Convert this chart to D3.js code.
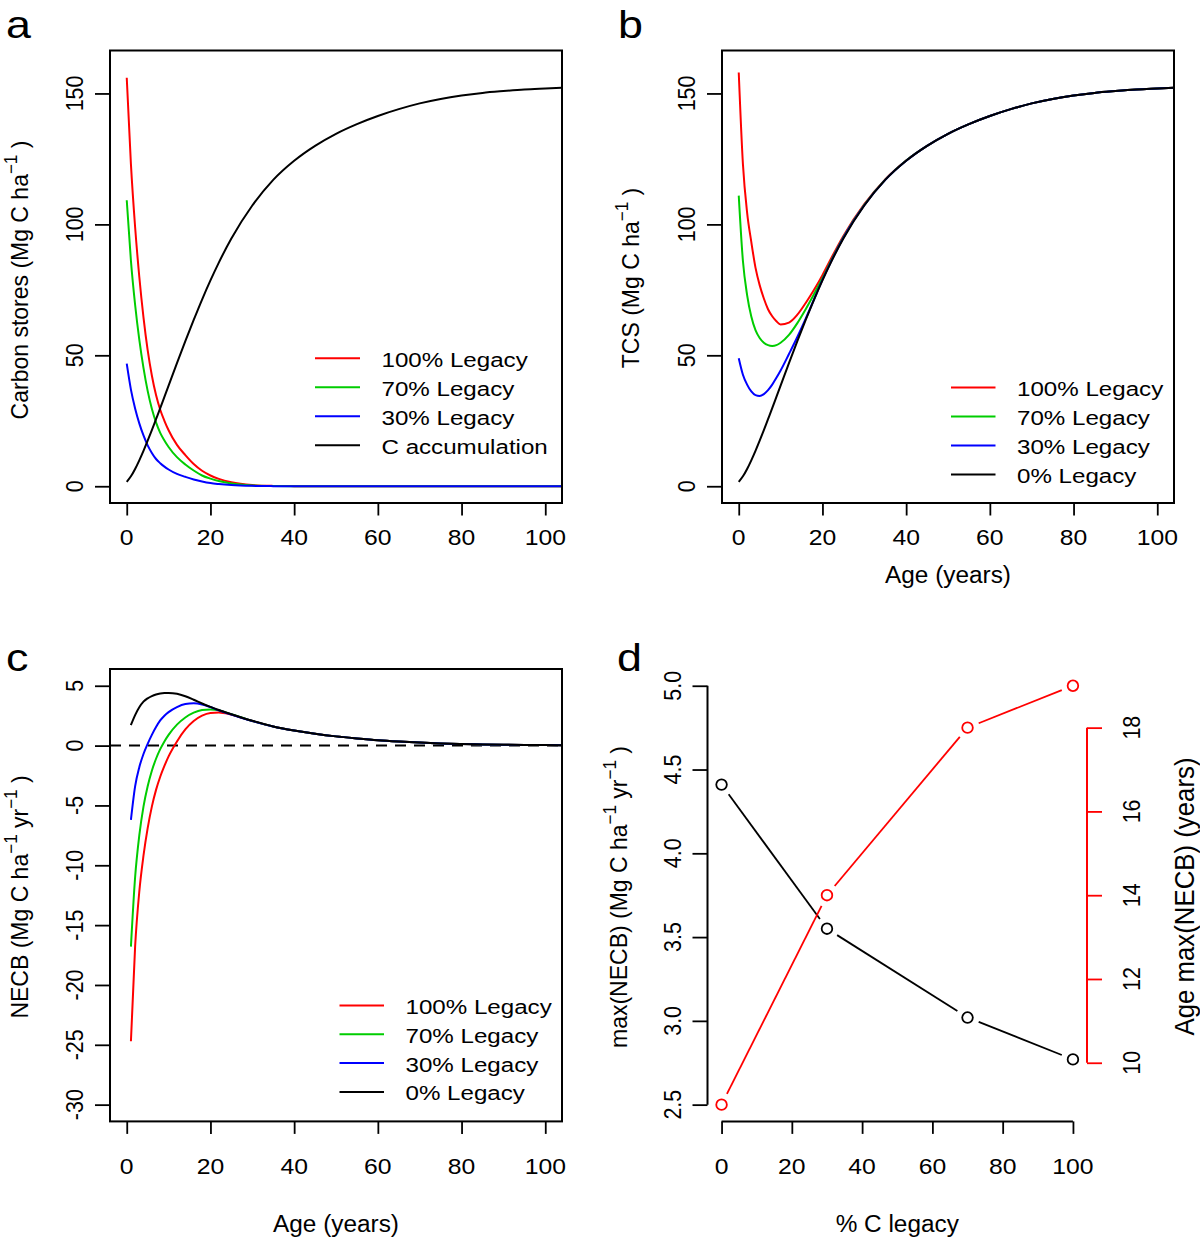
<!DOCTYPE html>
<html><head><meta charset="utf-8">
<script src="https://cdn.jsdelivr.net/npm/d3@7"></script>
<style>
body{margin:0;background:#fff}
svg{display:block}
text{font-family:"Liberation Sans",Arial,Helvetica,sans-serif;fill:#000}
</style>
</head><body>
<svg id="chart" width="1200" height="1238"></svg>
<script>
// ---------------- DATA ----------------
const ages = [0,1,2,3,4,5,6,7,8,9,10,12,14,16,18,20,22,25,30,35,40,45,50,55,60,65,70,75,80,85,90,95,100,104];
// panel a : carbon stores (Mg C / ha)
const accumulation = [1.7,3.8,6.6,9.9,13.5,17.4,21.4,25.6,29.8,34.1,38.4,47.0,55.4,63.5,71.3,78.6,85.4,94.6,107.2,117.0,124.3,130.0,134.6,138.3,141.4,144.0,146.2,147.9,149.2,150.2,150.9,151.5,151.9,152.2];
const legacy100 = [156,123,99,80,64.5,52,42.3,34.8,29.2,25.0,21.4,15.8,11.9,8.5,5.9,4.1,2.8,1.5,0.45,0.13,0.04,0.01,0,0,0,0,0,0,0,0,0,0,0,0];
const legacy70  = [109.2,86.1,69.3,56,45.2,36.4,29.6,24.4,20.4,17.5,15.0,11.1,8.3,6.0,4.1,2.9,2.0,1.05,0.32,0.09,0.03,0.01,0,0,0,0,0,0,0,0,0,0,0,0];
const legacy30  = [46.8,36.9,29.7,24,19.4,15.6,12.7,10.4,8.8,7.5,6.4,4.7,3.6,2.6,1.8,1.2,0.84,0.45,0.14,0.04,0.01,0,0,0,0,0,0,0,0,0,0,0,0,0];
// panel b : total carbon stores TCS (Mg C / ha)
const tcs100 = [158,123,104.5,93.3,83.5,76.8,71.7,67.6,64.9,63.0,61.8,62.5,65.5,70,75,80.6,86.8,95.6,107.7,117.2,124.4,130.0,134.6,138.3,141.4,144.0,146.2,147.9,149.2,150.2,150.9,151.5,151.9,152.2];
const tcs70  = [111,86,73,64.8,59.6,56.6,54.8,53.9,53.6,53.9,54.8,57.8,62.3,67.6,73.4,79.4,85.9,95.1,107.5,117.1,124.4,130.0,134.6,138.3,141.4,144.0,146.2,147.9,149.2,150.2,150.9,151.5,151.9,152.2];
const tcs30  = [48.9,42.6,38.8,36.2,34.8,34.5,35.2,36.7,38.8,41.4,44.2,50.5,57,64,71.4,78.8,85.6,94.9,107.3,117.0,124.3,130.0,134.6,138.3,141.4,144.0,146.2,147.9,149.2,150.2,150.9,151.5,151.9,152.2];
const tcs0   = [1.7,3.8,6.6,9.9,13.5,17.4,21.4,25.6,29.8,34.1,38.4,47.0,55.4,63.5,71.3,78.6,85.4,94.6,107.2,117.0,124.3,130.0,134.6,138.3,141.4,144.0,146.2,147.9,149.2,150.2,150.9,151.5,151.9,152.2];
// panel c : NECB (Mg C / ha / yr)
const agesNECB = [1,2,3,4,5,6,7,8,9,10,12,14,16,18,20,22,25,30,35,40,45,50,55,60,65,70,75,80,85,90,95,100,104];
const necb100 = [-24.7,-16.8,-12.2,-9.2,-6.9,-5.1,-3.7,-2.6,-1.7,-0.9,0.35,1.35,2.05,2.5,2.72,2.76,2.58,2.06,1.6,1.26,0.99,0.77,0.6,0.45,0.34,0.25,0.18,0.13,0.1,0.07,0.05,0.04,0.03];
const necb70  = [-16.8,-11.0,-7.5,-5.1,-3.4,-2.1,-1.1,-0.3,0.35,0.9,1.75,2.35,2.75,2.97,3.02,2.95,2.62,2.06,1.6,1.26,0.99,0.77,0.6,0.45,0.34,0.25,0.18,0.13,0.1,0.07,0.05,0.04,0.03];
const necb30  = [-6.2,-3.4,-1.8,-0.7,0.15,0.9,1.55,2.1,2.5,2.8,3.22,3.47,3.53,3.44,3.22,2.95,2.6,2.06,1.6,1.26,0.99,0.77,0.6,0.45,0.34,0.25,0.18,0.13,0.1,0.07,0.05,0.04,0.03];
const necb0   = [1.72,2.55,3.2,3.67,3.95,4.14,4.27,4.35,4.39,4.4,4.33,4.12,3.83,3.52,3.23,2.97,2.62,2.07,1.6,1.26,0.99,0.77,0.6,0.45,0.34,0.25,0.18,0.13,0.1,0.07,0.05,0.04,0.03];
// panel d
const legacyPct   = [0,30,70,100];
const maxNECB     = [4.41,3.55,3.02,2.77];
const ageMaxNECB  = [9,14,18,19];
// ticks / labels
const xTicks   = [0,20,40,60,80,100];
const yTicksAB = [0,50,100,150];
const yTicksC  = [5,0,-5,-10,-15,-20,-25,-30];
const yTicksD  = [2.5,3.0,3.5,4.0,4.5,5.0];
const yTicksD2 = [10,12,14,16,18];
const legendA  = ["100% Legacy","70% Legacy","30% Legacy","C accumulation"];
const legendB  = ["100% Legacy","70% Legacy","30% Legacy","0% Legacy"];
const seriesColors = ["#ff0000","#00cd00","#0000ff","#000000"];

// ---------------- DRAWING ----------------
const SX = 1.15;        // glyph horizontal stretch of the original figure (tick labels, legends)
const SXT = 1.06;       // stretch for axis titles
const FS = 21.5;        // axis font size
const TS = 23;          // axis title size
const svg = d3.select("#chart");

function T(g, x, y, parts, o = {}) {
  const size = o.size || FS;
  const sx = o.sx || SX;
  const t = g.append("text")
    .attr("transform", `translate(${x},${y}) scale(${sx},1)${o.rot ? " rotate(-90)" : ""}`)
    .attr("text-anchor", o.anchor || "middle")
    .style("font-size", size + "px");
  if (typeof parts === "string") { t.text(parts); return t; }
  let raised = false;
  parts.forEach(p => {
    const s = t.append("tspan").text(p.t);
    if (p.sup) {
      s.style("font-size", (size * 0.74) + "px");
      if (!raised) s.attr("dy", -size * 0.42);
      raised = true;
    } else {
      if (raised) s.attr("dy", size * 0.42);
      raised = false;
    }
  });
  return t;
}

function panel(id, box, yDomain) {
  const g = svg.append("g");
  const x = d3.scaleLinear().domain([-4, 104]).range([box.x0, box.x1]);
  const y = d3.scaleLinear().domain(yDomain).range([box.y1, box.y0]);
  g.append("clipPath").attr("id", "clip" + id).append("rect")
    .attr("x", box.x0).attr("y", box.y0).attr("width", box.x1 - box.x0).attr("height", box.y1 - box.y0);
  return {g, x, y, clip: `url(#clip${id})`};
}

function frame(P, box, yTicks, fmt) {
  const g = P.g;
  const ax = g.append("g").attr("transform", `translate(0,${box.y1})`)
    .call(d3.axisBottom(P.x).tickValues(xTicks).tickSize(12.5).tickFormat(""));
  const ay = g.append("g").attr("transform", `translate(${box.x0},0)`)
    .call(d3.axisLeft(P.y).tickValues(yTicks).tickSize(15).tickFormat(""));
  [ax, ay].forEach(a => { a.select(".domain").remove(); a.selectAll("line").attr("stroke", "#000").attr("stroke-width", 1.8); });
  g.append("rect").attr("x", box.x0).attr("y", box.y0)
    .attr("width", box.x1 - box.x0).attr("height", box.y1 - box.y0)
    .attr("fill", "none").attr("stroke", "#000").attr("stroke-width", 2);
  yTicks.forEach(v => T(g, box.x0 - 27, P.y(v), fmt ? fmt(v) : String(v), {rot: true}));
}

function xLabels(P, yBase) {
  xTicks.forEach(v => T(P.g, P.x(v), yBase, String(v)));
}

function curves(P, xs, list) {
  const line = d3.line().x((d, i) => P.x(xs[i])).y(d => P.y(d)).curve(d3.curveMonotoneX);
  const cg = P.g.append("g").attr("clip-path", P.clip);
  list.forEach(([arr, col]) => cg.append("path").attr("d", line(arr))
    .attr("fill", "none").attr("stroke", col).attr("stroke-width", 2));
}

function legend(g, x0, x1, xt, y0, dy, labels) {
  labels.forEach((lab, i) => {
    const yy = y0 + i * dy;
    g.append("line").attr("x1", x0).attr("x2", x1).attr("y1", yy).attr("y2", yy)
      .attr("stroke", seriesColors[i]).attr("stroke-width", 2);
    T(g, xt, yy + 8.5, lab, {anchor: "start", size: 21});
  });
}

const titleOpt = {rot: true, size: TS, sx: SXT};

// ---- panel a ----
const boxA = {x0: 110, x1: 562, y0: 50.5, y1: 503};
const A = panel("a", boxA, [-6.4, 166.4]);
curves(A, ages, [[legacy100, seriesColors[0]], [legacy70, seriesColors[1]], [legacy30, seriesColors[2]], [accumulation, seriesColors[3]]]);
frame(A, boxA, yTicksAB);
xLabels(A, 545);
T(A.g, 27.5, 280, [{t: "Carbon stores (Mg C ha"}, {t: "\u22121", sup: true}, {t: " )"}], titleOpt);
legend(A.g, 315, 360, 381.5, 358.3, 29, legendA);
T(svg, 6, 37.5, "a", {anchor: "start", size: 39});

// ---- panel b ----
const boxB = {x0: 722, x1: 1174, y0: 50.5, y1: 503};
const B = panel("b", boxB, [-6.4, 166.4]);
curves(B, ages, [[tcs100, seriesColors[0]], [tcs70, seriesColors[1]], [tcs30, seriesColors[2]], [tcs0, seriesColors[3]]]);
frame(B, boxB, yTicksAB);
xLabels(B, 545);
T(B.g, 638.5, 278, [{t: "TCS (Mg C ha"}, {t: "\u22121", sup: true}, {t: " )"}], titleOpt);
T(B.g, (boxB.x0 + boxB.x1) / 2, 583, "Age (years)", {size: TS, sx: SXT});
legend(B.g, 951, 995.5, 1017, 387.5, 29, legendB);
T(svg, 618, 37.5, "b", {anchor: "start", size: 39});

// ---- panel c ----
const boxC = {x0: 110, x1: 562, y0: 669, y1: 1121.4};
const C = panel("c", boxC, [-31.4, 6.4]);
C.g.append("line").attr("x1", boxC.x0).attr("x2", boxC.x1).attr("y1", C.y(0)).attr("y2", C.y(0))
  .attr("stroke", "#000").attr("stroke-width", 2).attr("stroke-dasharray", "11,8");
curves(C, agesNECB, [[necb100, seriesColors[0]], [necb70, seriesColors[1]], [necb30, seriesColors[2]], [necb0, seriesColors[3]]]);
frame(C, boxC, yTicksC);
xLabels(C, 1174);
T(C.g, 27.5, 897, [{t: "NECB (Mg C ha"}, {t: "\u22121", sup: true}, {t: " yr"}, {t: "\u22121", sup: true}, {t: " )"}], titleOpt);
T(C.g, (boxC.x0 + boxC.x1) / 2, 1232, "Age (years)", {size: TS, sx: SXT});
legend(C.g, 339.5, 384, 405.5, 1005.5, 28.8, legendB);
T(svg, 6, 670.5, "c", {anchor: "start", size: 39});

// ---- panel d ----
const boxD = {x0: 707.5, x1: 1087, y0: 669, y1: 1121.4};
const gD = svg.append("g");
const xD  = d3.scaleLinear().domain([-4, 104]).range([boxD.x0, boxD.x1]);
const yD  = d3.scaleLinear().domain([2.4, 5.1]).range([boxD.y1, boxD.y0]);
const yD2 = d3.scaleLinear().domain([8.6, 19.4]).range([boxD.y1, boxD.y0]);

function axisStyle(a, col) { a.select(".domain").remove(); a.selectAll("line").attr("stroke", col).attr("stroke-width", 1.8); }
const dB = gD.append("g").attr("transform", `translate(0,${boxD.y1})`)
  .call(d3.axisBottom(xD).tickValues(xTicks).tickSize(12.5).tickFormat(""));
axisStyle(dB, "#000");
gD.append("line").attr("x1", xD(0)).attr("x2", xD(100)).attr("y1", boxD.y1).attr("y2", boxD.y1).attr("stroke", "#000").attr("stroke-width", 2);
const dL = gD.append("g").attr("transform", `translate(${boxD.x0},0)`)
  .call(d3.axisLeft(yD).tickValues(yTicksD).tickSize(15).tickFormat(""));
axisStyle(dL, "#000");
gD.append("line").attr("x1", boxD.x0).attr("x2", boxD.x0).attr("y1", yD(2.5)).attr("y2", yD(5)).attr("stroke", "#000").attr("stroke-width", 2);
const dR = gD.append("g").attr("transform", `translate(${boxD.x1},0)`)
  .call(d3.axisRight(yD2).tickValues(yTicksD2).tickSize(15).tickFormat(""));
axisStyle(dR, "#ff0000");
gD.append("line").attr("x1", boxD.x1).attr("x2", boxD.x1).attr("y1", yD2(10)).attr("y2", yD2(18)).attr("stroke", "#ff0000").attr("stroke-width", 2);

xTicks.forEach(v => T(gD, xD(v), 1174, String(v)));
yTicksD.forEach(v => T(gD, boxD.x0 - 27, yD(v), d3.format(".1f")(v), {rot: true}));
yTicksD2.forEach(v => T(gD, boxD.x1 + 53, yD2(v), String(v), {rot: true}));

function typeB(xs, ys, yScale, col) {
  const pts = xs.map((v, i) => [xD(v), yScale(ys[i])]);
  const gap = 12;
  for (let i = 0; i < pts.length - 1; i++) {
    const [x1, y1] = pts[i], [x2, y2] = pts[i + 1];
    const L = Math.hypot(x2 - x1, y2 - y1);
    if (L <= 2 * gap) continue;
    const ux = (x2 - x1) / L, uy = (y2 - y1) / L;
    gD.append("line").attr("x1", x1 + ux * gap).attr("y1", y1 + uy * gap)
      .attr("x2", x2 - ux * gap).attr("y2", y2 - uy * gap)
      .attr("stroke", col).attr("stroke-width", 1.8);
  }
  gD.selectAll(null).data(pts).enter().append("circle")
    .attr("cx", d => d[0]).attr("cy", d => d[1]).attr("r", 5.3)
    .attr("fill", "none").attr("stroke", col).attr("stroke-width", 1.8);
}
typeB(legacyPct, maxNECB, yD, "#000000");
typeB(legacyPct, ageMaxNECB, yD2, "#ff0000");

T(gD, 626.5, 897, [{t: "max(NECB) (Mg C ha"}, {t: "\u22121", sup: true}, {t: " yr"}, {t: "\u22121", sup: true}, {t: " )"}], titleOpt);
T(gD, 1194, 896.5, "Age max(NECB) (years)", {rot: true, size: 25.8, sx: SXT});
T(gD, (boxD.x0 + boxD.x1) / 2, 1232, "% C legacy", {size: TS, sx: SXT});
T(svg, 617, 670.5, "d", {anchor: "start", size: 39});
</script>
</body></html>
